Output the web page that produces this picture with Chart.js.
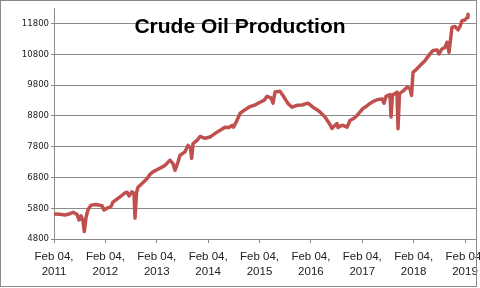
<!DOCTYPE html>
<html>
<head>
<meta charset="utf-8">
<script src="https://cdn.jsdelivr.net/npm/chart.js@4.4.1/dist/chart.umd.min.js"></script>
<style>
  html, body { margin: 0; padding: 0; background: #fff; }
  #wrap { width: 480px; height: 288px; }
</style>
</head>
<body>
<div id="wrap"><canvas id="oilChart" width="480" height="288"></canvas></div>
<script>
// years since Feb 04, 2011 and weekly production (thousand barrels/day)
const yearsSinceStart = [
    0.000, 0.117, 0.214, 0.311, 0.370, 0.448, 0.487, 0.526, 0.564, 0.590,
    0.623, 0.662, 0.720, 0.818, 0.934, 0.973, 1.032, 1.109, 1.148, 1.246,
    1.324, 1.382, 1.421, 1.460, 1.518, 1.557, 1.577, 1.606, 1.635, 1.713,
    1.810, 1.869, 1.927, 2.005, 2.063, 2.161, 2.258, 2.316, 2.355, 2.414,
    2.453, 2.550, 2.608, 2.657, 2.680, 2.706, 2.783, 2.842, 2.939, 3.036,
    3.095, 3.173, 3.251, 3.328, 3.406, 3.465, 3.494, 3.562, 3.620, 3.718,
    3.815, 3.912, 4.010, 4.088, 4.146, 4.224, 4.263, 4.302, 4.399, 4.457,
    4.516, 4.555, 4.633, 4.730, 4.827, 4.944, 5.041, 5.119, 5.178, 5.275,
    5.372, 5.411, 5.450, 5.509, 5.528, 5.586, 5.625, 5.703, 5.762, 5.839,
    5.898, 6.015, 6.073, 6.151, 6.209, 6.287, 6.384, 6.423, 6.462, 6.540,
    6.560, 6.589, 6.637, 6.676, 6.696, 6.725, 6.793, 6.871, 6.929, 6.959,
    6.988, 7.066, 7.124, 7.221, 7.319, 7.377, 7.455, 7.494, 7.552, 7.611,
    7.650, 7.689, 7.727, 7.747, 7.805, 7.864, 7.903, 7.942, 8.000, 8.039,
    8.058
];
const production = [
    5610, 5600, 5580, 5620, 5670, 5600, 5420, 5550, 5380, 5040,
    5500, 5750, 5900, 5920, 5880, 5740, 5800, 5850, 6000, 6120,
    6220, 6300, 6320, 6200, 6330, 6280, 5480, 6300, 6480, 6600,
    6760, 6900, 6980, 7050, 7100, 7190, 7360, 7250, 7030, 7300,
    7520, 7630, 7840, 7750, 7420, 7900, 8000, 8130, 8070, 8110,
    8180, 8270, 8350, 8430, 8420, 8490, 8430, 8650, 8880, 9000,
    9100, 9150, 9240, 9300, 9430, 9380, 9210, 9570, 9600, 9460,
    9300, 9200, 9080, 9140, 9150, 9210, 9080, 9000, 8920, 8760,
    8520, 8390, 8460, 8550, 8420, 8480, 8490, 8430, 8650, 8720,
    8810, 9040, 9100, 9200, 9260, 9320, 9350, 9210, 9430, 9490,
    8760, 9480, 9520, 9570, 8380, 9520, 9600, 9730, 9690, 9460,
    10210, 10330, 10430, 10590, 10810, 10920, 10940, 10810, 10970, 11020,
    11190, 10860, 11400, 11680, 11700, 11590, 11700, 11890, 11910, 11990,
    12100
];
const tickYears = [0, 1, 2, 3, 4, 5, 6, 7, 8];
const tickYearLabels = ['2011', '2012', '2013', '2014', '2015', '2016', '2017', '2018', '2019'];
const yTicks = [4800, 5800, 6800, 7800, 8800, 9800, 10800, 11800];

const gridColor = '#8a8a8a';

const frameAndTitle = {
    id: 'frameAndTitle',
    afterDraw(chart) {
        const ctx = chart.ctx;
        ctx.save();
        ctx.strokeStyle = gridColor;
        ctx.lineWidth = 1;
        ctx.strokeRect(0.5, 0.5, 476, 286);
        ctx.fillStyle = '#000';
        ctx.font = 'bold 21px "Liberation Sans", Arial, sans-serif';
        ctx.textAlign = 'center';
        ctx.textBaseline = 'alphabetic';
        ctx.fillText('Crude Oil Production', 240, 33);
        ctx.restore();
    }
};

new Chart(document.getElementById('oilChart'), {
    type: 'line',
    data: {
        datasets: [{
            data: yearsSinceStart.map((t, i) => ({ x: t, y: production[i] })),
            borderColor: '#C0504D',
            borderWidth: 3.5,
            borderJoinStyle: 'round',
            borderCapStyle: 'round',
            pointRadius: 0,
            tension: 0,
            fill: false
        }]
    },
    options: {
        responsive: false,
        animation: false,
        devicePixelRatio: 1,
        layout: { padding: { top: 8, right: 4, left: 0, bottom: 0 } },
        plugins: {
            legend: { display: false },
            tooltip: { enabled: false },
            title: { display: false }
        },
        scales: {
            x: {
                type: 'linear',
                min: 0,
                max: 8.214,
                afterBuildTicks: scale => { scale.ticks = tickYears.map(v => ({ value: v })); },
                afterFit: scale => {
                    scale.paddingLeft = 0;
                    scale.paddingRight = 0;
                    scale.height = 49;
                },
                grid: {
                    drawOnChartArea: false,
                    drawTicks: true,
                    tickLength: 4,
                    color: gridColor
                },
                border: { color: gridColor, width: 1 },
                ticks: {
                    autoSkip: false,
                    maxRotation: 0,
                    padding: 6,
                    color: '#222',
                    font: { family: '"Liberation Sans", Arial, sans-serif', size: 11.5, lineHeight: 1.3 },
                    callback: (value, index) => ['Feb 04,', tickYearLabels[index]]
                }
            },
            y: {
                min: 4800,
                max: 12300,
                afterBuildTicks: scale => { scale.ticks = yTicks.map(v => ({ value: v })); },
                afterFit: scale => {
                    scale.width = 54;
                    scale.paddingTop = 0;
                    scale.paddingBottom = 0;
                },
                grid: {
                    color: gridColor,
                    lineWidth: 1,
                    tickLength: 3
                },
                border: { color: gridColor, width: 1 },
                ticks: {
                    padding: 2,
                    color: '#222',
                    font: { family: '"Liberation Sans Narrow", "DejaVu Sans Condensed", sans-serif', size: 9.5 },
                    callback: value => String(value)
                }
            }
        }
    },
    plugins: [frameAndTitle]
});
</script>
</body>
</html>
